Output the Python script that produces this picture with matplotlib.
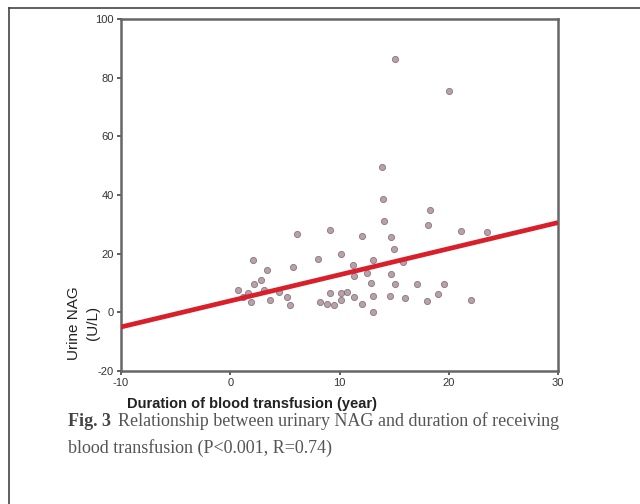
import numpy as np
import matplotlib.pyplot as plt
from matplotlib.lines import Line2D

plt.rcParams['font.family'] = ['Liberation Sans', 'DejaVu Sans']
plt.rcParams['axes.unicode_minus'] = False

# ---------- data ---------- #
duration = [15.1, 20.0, 13.9, 14.0, 18.3, 14.1, 18.1, 6.1, 9.1, 12.1,
            14.7, 21.1, 23.5, 15.0, 10.1, 8.0, 2.1, 3.4, 5.7, 11.2,
            13.1, 15.8, 14.7, 15.1, 17.1, 19.6, 19.0, 18.0, 22.0, 16.0,
            14.6, 13.1, 13.1, 12.9, 12.1, 11.3, 10.7, 10.1, 10.1, 9.5,
            8.9, 8.2, 9.1, 5.5, 5.2, 4.5, 3.6, 3.1, 2.8, 2.2,
            1.6, 1.2, 0.7, 1.9, 11.3, 12.5]
nag = [86.2, 75.5, 49.6, 38.6, 34.8, 31.2, 29.7, 26.6, 28.0, 25.9,
       25.7, 27.7, 27.4, 21.7, 20.0, 18.3, 18.0, 14.3, 15.5, 16.0,
       17.7, 17.0, 13.2, 9.6, 9.8, 9.8, 6.4, 3.8, 4.1, 5.0,
       5.5, 0.1, 5.6, 9.9, 3.0, 5.3, 7.1, 6.5, 4.1, 2.4,
       3.0, 3.6, 6.5, 2.4, 5.3, 7.1, 4.1, 7.5, 11.0, 9.5,
       6.5, 5.3, 7.5, 3.6, 12.5, 13.5]

fit_x = [-10, 30]
fit_intercept = 3.9
fit_slope = 0.89

x_ticks = [-10, 0, 10, 20, 30]
y_ticks = [-20, 0, 20, 40, 60, 80, 100]

xlabel = 'Duration of blood transfusion (year)'
ylabel = 'Urine NAG\n(U/L)'
caption1 = 'Relationship between urinary NAG and duration of receiving'
caption2 = 'blood transfusion (P<0.001, R=0.74)'

# ---------- figure ---------- #
fig = plt.figure(figsize=(6.4, 5.04), dpi=100)
ax = fig.add_axes([0.189, 0.2639, 0.683, 0.6984])

ax.scatter(duration, nag, s=20, facecolor='#a58a95', edgecolor='#7a5f6a',
           linewidth=0.6, alpha=0.8, zorder=2)
fy = [fit_intercept + fit_slope * v for v in fit_x]
ax.plot(fit_x, fy, color='#d81f2a', linewidth=3.4, zorder=3,
        solid_capstyle='butt')

ax.set_xlim(-10, 30)
ax.set_ylim(-20, 100)
ax.set_xticks(x_ticks)
ax.set_yticks(y_ticks)
ax.tick_params(labelsize=8, length=3, width=1.2, color='#444',
               labelcolor='#333', pad=2)
for sp in ax.spines.values():
    sp.set_linewidth(1.8)
    sp.set_color('#666666')

fig.text(0.393, 0.199, xlabel, ha='center', va='center', fontsize=10.5,
         fontweight='bold', color='#222')
fig.text(0.131, 0.359, ylabel, ha='center', va='center', rotation=90,
         fontsize=11, color='#222', linespacing=1.45)

# caption (serif)
fig.text(0.106, 0.164, 'Fig. 3', ha='left', va='center', fontsize=13,
         fontweight='bold', family='Liberation Serif', color='#444')
fig.text(0.184, 0.164, caption1, ha='left', va='center', fontsize=13,
         family='Liberation Serif', color='#555')
fig.text(0.106, 0.111, caption2, ha='left', va='center', fontsize=13,
         family='Liberation Serif', color='#555')

# outer frame lines of the scan
fig.add_artist(Line2D([9 / 640, 1], [1 - 8 / 504, 1 - 8 / 504],
                      transform=fig.transFigure, color='#444', lw=1.2))
fig.add_artist(Line2D([9 / 640, 9 / 640], [0, 1 - 8 / 504],
                      transform=fig.transFigure, color='#444', lw=1.2))

fig.savefig('out.png', dpi=100)
